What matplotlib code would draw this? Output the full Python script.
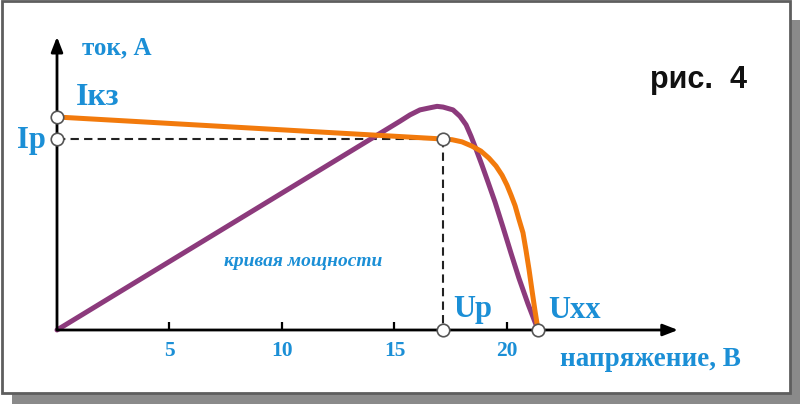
import matplotlib
matplotlib.use("Agg")
import matplotlib.pyplot as plt
from matplotlib.patches import Rectangle

# ВАХ солнечной панели (ток) и кривая мощности (в масштабе)
u_current = [0.00, 17.16, 17.56, 18.00, 18.44, 18.84, 19.20, 19.51, 19.78, 20.00,
             20.18, 20.36, 20.53, 20.71, 20.84, 20.98, 21.11, 21.24, 21.38]
i_current = [3.00, 2.69, 2.68, 2.65, 2.59, 2.52, 2.42, 2.31, 2.18, 2.04,
             1.90, 1.75, 1.56, 1.37, 1.13, 0.85, 0.56, 0.28, 0.00]

u_power = [0.00, 15.24, 15.69, 16.13, 16.58, 16.89, 17.16, 17.60, 17.91, 18.18, 18.40,
           18.62, 18.89, 19.16, 19.47, 19.82, 20.18, 20.53, 20.93, 21.38]
p_power = [0.00, 2.94, 3.03, 3.10, 3.13, 3.15, 3.14, 3.10, 3.01, 2.89, 2.73,
           2.55, 2.32, 2.08, 1.80, 1.45, 1.08, 0.73, 0.37, 0.00]

i_kz = 3.00     # ток короткого замыкания
i_p = 2.69      # ток в рабочей точке
u_p = 17.16     # напряжение в рабочей точке
u_xx = 21.38    # напряжение холостого хода

x_ticks = [5, 10, 15, 20]
x_ticklabels = ["5", "10", "15", "20"]

BLUE = "#1b8fd6"
ORANGE = "#f27a0c"
PURPLE = "#8c3a7c"
serif_bold = dict(family="Liberation Serif", weight="bold", color=BLUE)

fig = plt.figure(figsize=(8, 4.04), dpi=100)
W, H = 800, 404

# рамка с тенью
fig.patches.append(Rectangle((12 / W, 0), (800 - 12) / W, (404 - 20) / H,
                             transform=fig.transFigure, facecolor="#8a8a8a",
                             edgecolor="none", zorder=0))
fig.patches.append(Rectangle((2 / W, (404 - 393) / H), (790 - 2) / W, (393 - 1) / H,
                             transform=fig.transFigure, facecolor="white",
                             edgecolor="#5e5e5e", linewidth=2.0, zorder=1))

ax = fig.add_axes([0, 0, 1, 1])
ax.set_zorder(5)
ax.patch.set_alpha(0)
ax.set_xlim(-57 / 22.5, (800 - 57) / 22.5)
ax.set_ylim((330 - 404) / 71, 330 / 71)
ax.axis("off")

# оси со стрелками
ax.annotate("", xy=(27.6, 0), xytext=(0, 0),
            arrowprops=dict(arrowstyle="-|>,head_length=0.9,head_width=0.35",
                            color="black", lw=2.0, shrinkA=0, shrinkB=0))
ax.annotate("", xy=(0, 4.13), xytext=(0, 0),
            arrowprops=dict(arrowstyle="-|>,head_length=0.9,head_width=0.35",
                            color="black", lw=2.0, shrinkA=0, shrinkB=0))
for t in x_ticks:
    ax.plot([t, t], [0, 0.11], color="black", lw=1.6, solid_capstyle="butt")
for t, lab in zip(x_ticks, x_ticklabels):
    ax.text(t, -0.29, lab, ha="center", va="center", fontsize=15.5, **serif_bold)

# пунктир к рабочей точке
ax.plot([0, u_p], [i_p, i_p], color="#222222", lw=1.5, dashes=(4, 2.5))
ax.plot([u_p, u_p], [i_p, 0], color="#222222", lw=1.5, dashes=(4, 2.5))

# кривые
ax.plot(u_power, p_power, color=PURPLE, lw=3.6, solid_joinstyle="round",
        solid_capstyle="round")
ax.plot(u_current, i_current, color=ORANGE, lw=3.6, solid_joinstyle="round",
        solid_capstyle="round")

# точки
ax.plot([0, 0, u_p, u_p, u_xx], [i_kz, i_p, i_p, 0, 0], "o", ms=9, zorder=10,
        markerfacecolor="white", markeredgecolor="#555555", markeredgewidth=1.2)

# подписи
ax.text(1.11, 3.97, "ток, А", ha="left", va="center", fontsize=18, **serif_bold)
ax.text(0.84, 3.17, "Iкз", ha="left", va="baseline", fontsize=23, **serif_bold)
ax.text(-0.5, 2.56, "Ip", ha="right", va="baseline", fontsize=22, **serif_bold)
ax.text(17.6, 0.18, "Up", ha="left", va="baseline", fontsize=22, **serif_bold)
ax.text(21.82, 0.17, "Uxx", ha="left", va="baseline", fontsize=22, **serif_bold)
ax.text(22.36, -0.42, "напряжение, В", ha="left", va="center", fontsize=19.5, **serif_bold)
ax.text(10.95, 0.96, "кривая мощности", ha="center", va="center", fontsize=14,
        family="Liberation Serif", weight="bold", style="italic", color=BLUE)
ax.text(26.36, 3.41, "рис.  4", ha="left", va="baseline", fontsize=22,
        family="Liberation Sans", weight="bold", color="#111111")

fig.savefig("out.png", dpi=100)
